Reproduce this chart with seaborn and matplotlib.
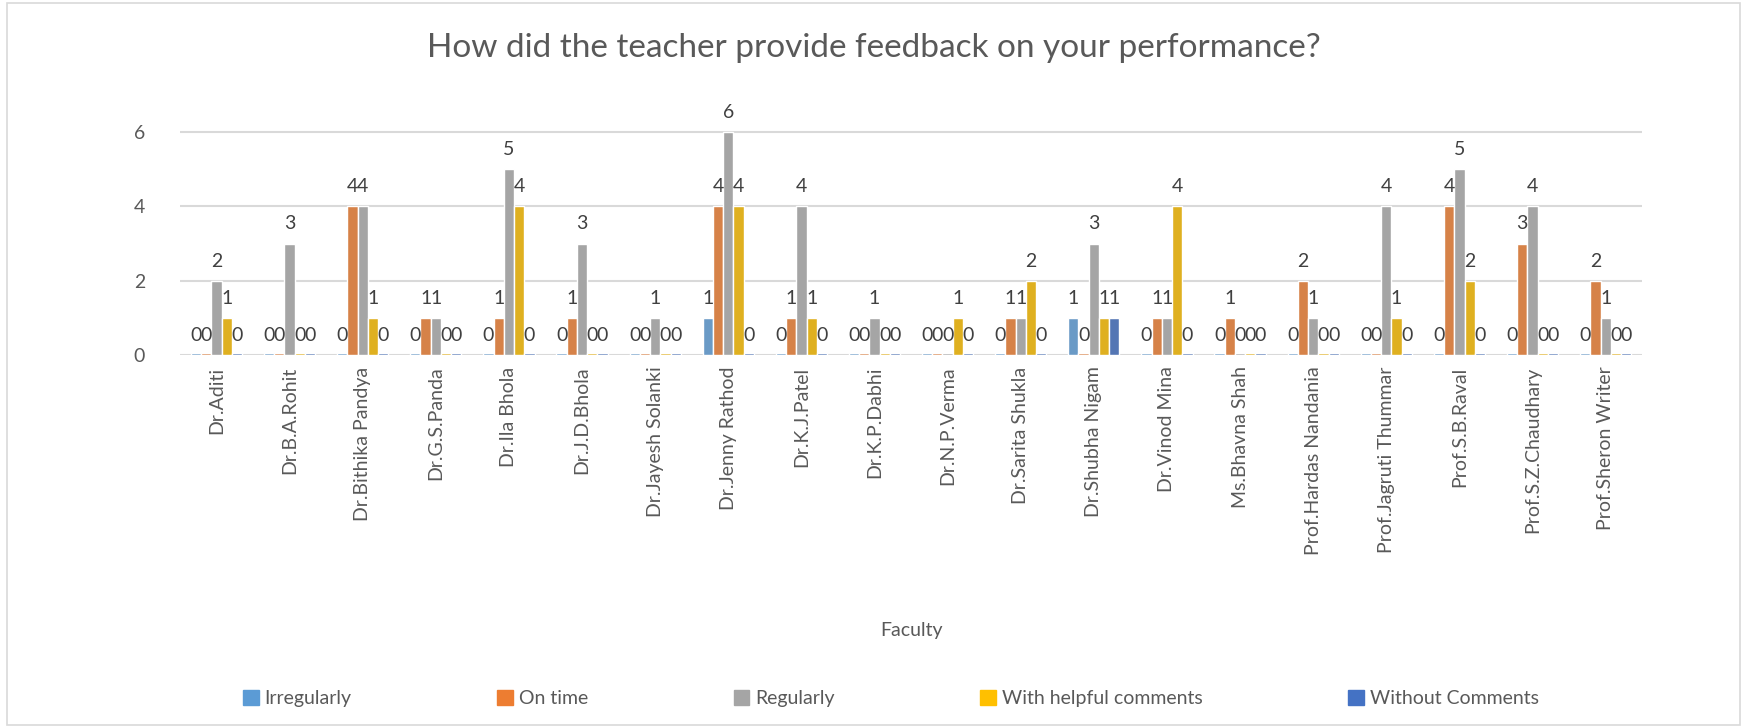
import pandas as pd
import numpy as np
import matplotlib
matplotlib.use('Agg')
import matplotlib.pyplot as plt
import seaborn as sns
from matplotlib.patches import Rectangle

# dados
faculty = ['Dr.Aditi', 'Dr.B.A.Rohit', 'Dr.Bithika Pandya', 'Dr.G.S.Panda', 'Dr.Ila Bhola',
           'Dr.J.D.Bhola', 'Dr.Jayesh Solanki', 'Dr.Jenny Rathod', 'Dr.K.J.Patel', 'Dr.K.P.Dabhi',
           'Dr.N.P.Verma', 'Dr.Sarita Shukla', 'Dr.Shubha Nigam', 'Dr.Vinod Mina', 'Ms.Bhavna Shah',
           'Prof.Hardas Nandania', 'Prof.Jagruti Thummar', 'Prof.S.B.Raval', 'Prof.S.Z.Chaudhary',
           'Prof.Sheron Writer']
irregularly = [0, 0, 0, 0, 0, 0, 0, 1, 0, 0, 0, 0, 1, 0, 0, 0, 0, 0, 0, 0]
on_time     = [0, 0, 4, 1, 1, 1, 0, 4, 1, 0, 0, 1, 0, 1, 1, 2, 0, 4, 3, 2]
regularly   = [2, 3, 4, 1, 5, 3, 1, 6, 4, 1, 0, 1, 3, 1, 0, 1, 4, 5, 4, 1]
helpful     = [1, 0, 1, 0, 4, 0, 0, 4, 1, 0, 1, 2, 1, 4, 0, 0, 1, 2, 0, 0]
without     = [0, 0, 0, 0, 0, 0, 0, 0, 0, 0, 0, 0, 1, 0, 0, 0, 0, 0, 0, 0]

series = ['Irregularly', 'On time', 'Regularly', 'With helpful comments', 'Without Comments']
cores = ['#5B9BD5', '#ED7D31', '#A5A5A5', '#FFC000', '#4472C4']

df = pd.DataFrame({'Faculty': faculty, series[0]: irregularly, series[1]: on_time,
                   series[2]: regularly, series[3]: helpful, series[4]: without})
df_long = df.melt(id_vars='Faculty', var_name='Tipo', value_name='Qtd')

sns.set_style('white')
plt.rcParams['font.family'] = ['Lato', 'DejaVu Sans']

fig = plt.figure(figsize=(17.47, 7.28), dpi=100)
ax = fig.add_axes([0.103, 0.512, 0.837, 0.358])

sns.barplot(data=df_long, x='Faculty', y='Qtd', hue='Tipo', hue_order=series,
            palette=cores, width=0.7, ax=ax, legend=False)

# rotulos de dados (inclusive zeros)
for c in ax.containers:
    ax.bar_label(c, labels=['{:.0f}'.format(v) for v in c.datavalues],
                 padding=8, fontsize=14, color='#404040')
    for p in c.patches:
        if p.get_height() == 0:
            p.set_height(0.05)

ax.set_ylim(0, 7)
ax.set_yticks([0, 2, 4, 6])
ax.set_xlim(-0.5, len(faculty) - 0.5)
ax.yaxis.grid(True, color='#D9D9D9', linewidth=1.5)
ax.set_axisbelow(True)
for s in ax.spines.values():
    s.set_visible(False)
ax.tick_params(axis='y', labelsize=14, labelcolor='#595959', length=0, pad=25)
ax.tick_params(axis='x', labelsize=14, labelcolor='#595959', length=0, pad=8)
plt.setp(ax.get_xticklabels(), rotation=90)
ax.set_ylabel('')
ax.set_xlabel('Faculty', fontsize=14, color='#595959', labelpad=48)

fig.suptitle('How did the teacher provide feedback on your performance?',
             fontsize=24, color='#595959', y=0.955)

handles = [Rectangle((0, 0), 1, 1, color=c) for c in cores]
fig.legend(handles, series, loc='center', bbox_to_anchor=(0.51, 0.04), ncol=5,
           frameon=False, fontsize=14, handlelength=0.8, handleheight=0.8,
           handletextpad=0.3, columnspacing=7.5, labelcolor='#595959')

fig.patches.append(Rectangle((0.004, 0.004), 0.992, 0.992, transform=fig.transFigure,
                             fill=False, edgecolor='#D9D9D9', linewidth=1.2))

fig.savefig('out.png', dpi=100)
